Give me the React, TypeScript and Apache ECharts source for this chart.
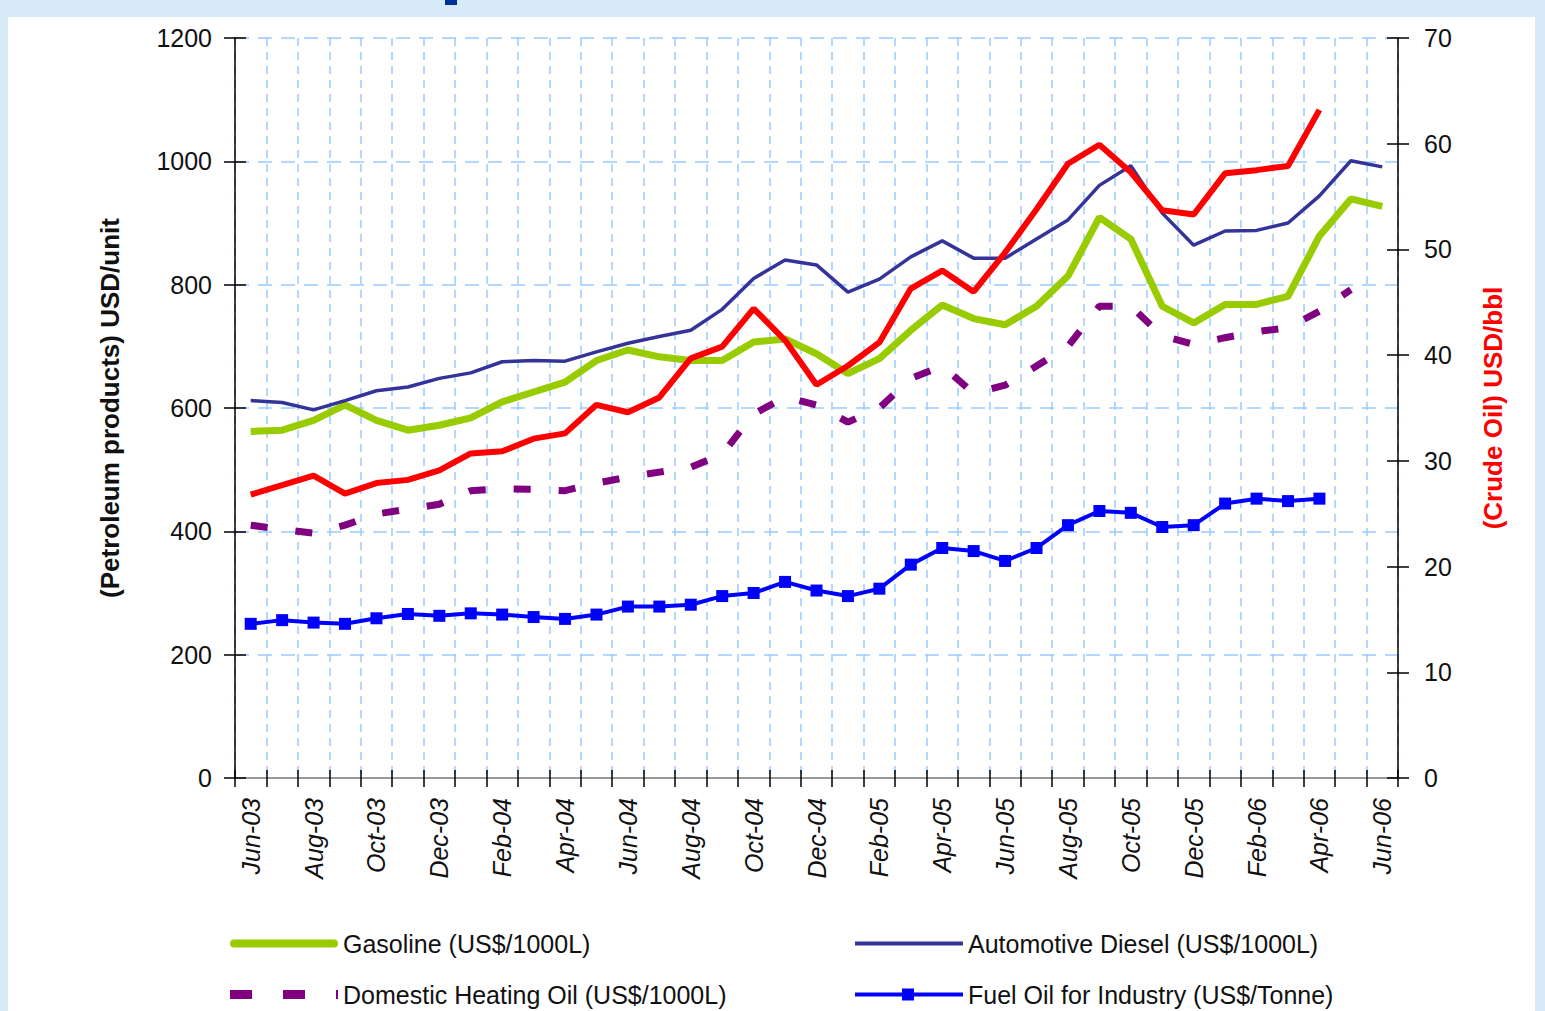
import React, { useEffect, useRef } from "react";
import * as echarts from "echarts";

const months = [
  "Jun-03", "Jul-03", "Aug-03", "Sep-03", "Oct-03", "Nov-03", "Dec-03",
  "Jan-04", "Feb-04", "Mar-04", "Apr-04", "May-04", "Jun-04", "Jul-04", "Aug-04", "Sep-04", "Oct-04", "Nov-04", "Dec-04",
  "Jan-05", "Feb-05", "Mar-05", "Apr-05", "May-05", "Jun-05", "Jul-05", "Aug-05", "Sep-05", "Oct-05", "Nov-05", "Dec-05",
  "Jan-06", "Feb-06", "Mar-06", "Apr-06", "May-06", "Jun-06",
];

const gasoline = [562, 564, 580, 605, 580, 564, 572, 584, 610, 626, 642, 677, 694, 683, 677, 677, 707, 712, 688, 656, 680, 726, 767, 745, 735, 765, 814, 909, 874, 765, 738, 768, 768, 781, 879, 939, 927];
const diesel = [612, 609, 597, 612, 628, 634, 648, 657, 675, 677, 676, 691, 705, 716, 726, 760, 810, 840, 832, 788, 809, 845, 871, 843, 843, 874, 905, 961, 993, 916, 864, 887, 888, 900, 944, 1001, 991];
const heatingOil = [410, 403, 397, 410, 428, 436, 444, 466, 469, 468, 466, 478, 488, 496, 504, 525, 590, 618, 605, 577, 600, 648, 668, 624, 637, 668, 700, 765, 765, 717, 703, 714, 724, 730, 757, 792, null];
const fuelOil = [250, 256, 252, 250, 259, 266, 263, 267, 265, 261, 258, 265, 278, 278, 281, 295, 300, 318, 304, 295, 307, 346, 373, 368, 352, 373, 410, 433, 430, 407, 410, 445, 453, 449, 453, null, null];
const crudeOil = [26.8, 27.7, 28.6, 26.9, 27.9, 28.2, 29.1, 30.7, 30.9, 32.1, 32.6, 35.3, 34.6, 36.0, 39.7, 40.8, 44.4, 41.4, 37.2, 39.0, 41.2, 46.3, 48.0, 46.0, 49.7, 53.8, 58.1, 59.9, 57.3, 53.7, 53.3, 57.2, 57.5, 57.9, 63.2, null, null];

const leftTicks = { min: 0, max: 1200, interval: 200 };
const rightTicks = { min: 0, max: 70, interval: 10 };

const names = {
  gasoline: "Gasoline (US$/1000L)",
  diesel: "Automotive Diesel (US$/1000L)",
  heating: "Domestic Heating Oil (US$/1000L)",
  fuel: "Fuel Oil for Industry (US$/Tonne)",
  crude: "Crude Oil (USD/bbl)",
};

const FONT = "'Liberation Sans', Arial, sans-serif";
const GRID_BLUE = "#99ccff";

export default function App() {
  const ref = useRef<HTMLDivElement>(null);

  useEffect(() => {
    document.body.style.margin = "0";
    const chart = echarts.init(ref.current!, undefined, { renderer: "svg" });
    const legendText = { fontFamily: FONT, fontSize: 25, color: "#111" };
    const legendCommon = {
      itemWidth: 108,
      selectedMode: false,
      textStyle: legendText,
      padding: 0,
      symbolKeepAspect: false,
    };
    chart.setOption({
      animation: false,
      backgroundColor: "#d6eaf8",
      textStyle: { fontFamily: FONT },
      graphic: [
        { type: "rect", shape: { x: 8, y: 17, width: 1527, height: 1000 }, style: { fill: "#ffffff" }, z: -10 },
        { type: "rect", shape: { x: 445, y: 0, width: 12, height: 5 }, style: { fill: "#003399" }, z: -10 },
      ],
      grid: { left: 235, right: 147, top: 38, bottom: 233, containLabel: false },
      legend: [
        {
          ...legendCommon,
          itemHeight: 8,
          data: [{ name: names.gasoline, icon: "path://M4,0H104A4,4,0,0,1,104,8H4A4,4,0,0,1,4,0Z" }],
          left: 230,
          top: 931,
        },
        {
          ...legendCommon,
          itemHeight: 4,
          data: [{ name: names.diesel, icon: "path://M0,0H108V4H0Z" }],
          left: 855,
          top: 931,
        },
        {
          ...legendCommon,
          itemHeight: 9,
          data: [{ name: names.heating, icon: "path://M0,0H22V9H0Z M53,0H75V9H53Z M106,0H108V9H106Z" }],
          left: 230,
          top: 982,
        },
        {
          ...legendCommon,
          itemHeight: 12,
          data: [{ name: names.fuel, icon: "path://M0,4H108V8H0Z M47,0H59V12H47Z" }],
          left: 855,
          top: 982,
        },
      ],
      xAxis: [
        {
          type: "category",
          data: months,
          boundaryGap: true,
          position: "bottom",
          axisLine: { lineStyle: { color: "#000", width: 1.5 } },
          axisTick: { show: true, interval: 0, length: 9, lineStyle: { color: "#000", width: 1.5 } },
          axisLabel: {
            interval: 1,
            rotate: 90,
            margin: 20,
            fontSize: 25,
            fontStyle: "italic",
            fontFamily: FONT,
            color: "#111",
          },
          splitLine: { show: true, interval: 0, lineStyle: { color: GRID_BLUE, type: [8, 6], width: 1.5 } },
        },
        {
          type: "category",
          data: months,
          boundaryGap: true,
          position: "top",
          axisLine: { lineStyle: { color: "#999", width: 2 } },
          axisTick: { show: false },
          axisLabel: { show: false },
          splitLine: { show: false },
        },
        {
          type: "category",
          data: months,
          boundaryGap: true,
          position: "bottom",
          axisLine: { show: false },
          axisTick: { show: true, inside: true, interval: 0, length: 8, lineStyle: { color: "#000", width: 1.5 } },
          axisLabel: { show: false },
          splitLine: { show: false },
        },
      ],
      yAxis: [
        {
          type: "value",
          position: "left",
          ...leftTicks,
          name: "(Petroleum products) USD/unit",
          nameLocation: "middle",
          nameRotate: 90,
          nameGap: 112,
          nameTextStyle: { fontSize: 26, fontWeight: "bold", color: "#111", fontFamily: FONT },
          axisLine: { show: true, lineStyle: { color: "#000", width: 1.5 } },
          axisTick: { show: true, length: 11, lineStyle: { color: "#000", width: 1.5 } },
          axisLabel: { margin: 23, fontSize: 25, color: "#111", fontFamily: FONT, formatter: (v: number) => String(v) },
          splitLine: { show: true, lineStyle: { color: GRID_BLUE, type: [14, 9], width: 1.5 } },
        },
        {
          type: "value",
          position: "right",
          ...rightTicks,
          name: "(Crude Oil) USD/bbl",
          nameLocation: "middle",
          nameRotate: 90,
          nameGap: 82,
          nameTextStyle: { fontSize: 26, fontWeight: "bold", color: "#ff0000", fontFamily: FONT },
          axisLine: { show: true, lineStyle: { color: "#000", width: 1.5 } },
          axisTick: { show: true, length: 11, lineStyle: { color: "#000", width: 1.5 } },
          axisLabel: { margin: 26, fontSize: 25, color: "#111", fontFamily: FONT, formatter: (v: number) => String(v) },
          splitLine: { show: false },
        },
        {
          type: "value",
          position: "left",
          ...leftTicks,
          axisLine: { show: false },
          axisTick: { show: true, inside: true, length: 11, lineStyle: { color: "#000", width: 1.5 } },
          axisLabel: { show: false },
          splitLine: { show: false },
        },
        {
          type: "value",
          position: "right",
          ...rightTicks,
          axisLine: { show: false },
          axisTick: { show: true, inside: true, length: 11, lineStyle: { color: "#000", width: 1.5 } },
          axisLabel: { show: false },
          splitLine: { show: false },
        },
      ],
      series: [
        {
          name: names.fuel,
          type: "line",
          data: fuelOil,
          yAxisIndex: 0,
          symbol: "rect",
          symbolSize: 12,
          showSymbol: true,
          lineStyle: { color: "#0000ff", width: 4 },
          itemStyle: { color: "#0000ff" },
          z: 3,
        },
        {
          name: names.heating,
          type: "line",
          data: heatingOil,
          yAxisIndex: 0,
          symbol: "none",
          lineStyle: { color: "#800080", width: 7, type: [17, 28] },
          itemStyle: { color: "#800080" },
          z: 3,
        },
        {
          name: names.diesel,
          type: "line",
          data: diesel,
          yAxisIndex: 0,
          symbol: "none",
          lineStyle: { color: "#333399", width: 3.5 },
          itemStyle: { color: "#333399" },
          z: 4,
        },
        {
          name: names.gasoline,
          type: "line",
          data: gasoline,
          yAxisIndex: 0,
          symbol: "none",
          lineStyle: { color: "#99cc00", width: 7 },
          itemStyle: { color: "#99cc00" },
          z: 3,
        },
        {
          name: names.crude,
          type: "line",
          data: crudeOil,
          yAxisIndex: 1,
          symbol: "none",
          lineStyle: { color: "#ff0000", width: 6 },
          itemStyle: { color: "#ff0000" },
          z: 5,
        },
      ],
    });
    return () => chart.dispose();
  }, []);

  return <div ref={ref} style={{ width: 1545, height: 1011 }} />;
}
